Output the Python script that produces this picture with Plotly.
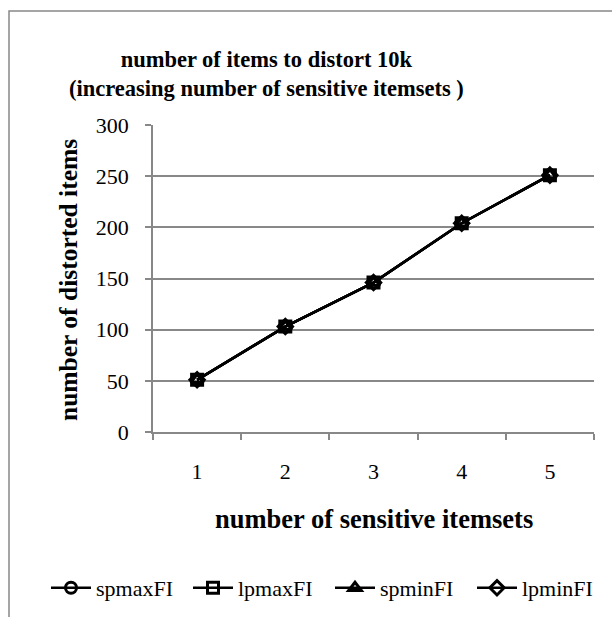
import plotly.graph_objects as go

categories = ["1", "2", "3", "4", "5"]
spmaxFI = [51, 103, 146, 204, 251]
lpmaxFI = [51, 103, 146, 204, 251]
spminFI = [51, 103, 146, 204, 251]
lpminFI = [51, 103, 146, 204, 251]

series = [
    ("spmaxFI", spmaxFI, "circle-open"),
    ("lpmaxFI", lpmaxFI, "square-open"),
    ("spminFI", spminFI, "triangle-up-open"),
    ("lpminFI", lpminFI, "diamond-open"),
]

FONT = "Liberation Serif, Times New Roman, serif"

fig = go.Figure()
for name, vals, sym in series:
    fig.add_trace(go.Scatter(
        x=categories, y=vals, name=name, mode="lines+markers",
        line=dict(color="black", width=2.5),
        marker=dict(symbol=sym, size=11, color="black", line=dict(color="black", width=3)),
    ))

L, R, T, B = 153, 18, 125, 185
W, H = 612, 617
pw = W - L - R
ph = H - T - B

def px(x):
    return (x - L) / pw

def py(y):
    return (H - B - y) / ph

fig.update_layout(
    width=W, height=H,
    margin=dict(l=L, r=R, t=T, b=B, autoexpand=False),
    paper_bgcolor="white", plot_bgcolor="white",
    font=dict(family=FONT, size=22, color="black"),
    showlegend=True,
    legend=dict(orientation="h", x=px(46), xanchor="left", y=py(588), yanchor="middle",
                font=dict(family=FONT, size=22), itemwidth=40,
                entrywidth=87, entrywidthmode="pixels",
                bgcolor="rgba(0,0,0,0)"),
    xaxis=dict(type="category", range=[-0.5, 4.5], tickson="boundaries",
               ticks="outside", ticklen=6, tickcolor="#888888", tickwidth=1.5,
               showline=True, linecolor="#888888", linewidth=1.5,
               showgrid=False, zeroline=False, ticklabelstandoff=19,
               tickfont=dict(family=FONT, size=22)),
    yaxis=dict(range=[0, 300], dtick=50, ticks="outside", ticklen=6,
               tickcolor="#888888", tickwidth=1.5,
               showline=True, linecolor="#888888", linewidth=1.5,
               showgrid=True, gridcolor="#888888", gridwidth=1.5, zeroline=False,
               ticklabelstandoff=12,
               tickfont=dict(family=FONT, size=22)),
    shapes=[dict(type="rect", xref="paper", yref="paper",
                 x0=px(9), x1=px(640), y0=py(660), y1=py(11),
                 line=dict(color="#888888", width=1.5), fillcolor="rgba(0,0,0,0)",
                 layer="below")],
    annotations=[
        dict(text="<b>number of items to distort 10k<br>(increasing number of sensitive itemsets )</b>",
             xref="paper", yref="paper", x=px(266), y=py(74), xanchor="center", yanchor="middle",
             showarrow=False, font=dict(family=FONT, size=22.5)),
        dict(text="<b>number of distorted items</b>", textangle=-90,
             xref="paper", yref="paper", x=px(68), y=py(280), xanchor="center", yanchor="middle",
             showarrow=False, font=dict(family=FONT, size=25.5)),
        dict(text="<b>number of sensitive itemsets</b>",
             xref="paper", yref="paper", x=px(374), y=py(519), xanchor="center", yanchor="middle",
             showarrow=False, font=dict(family=FONT, size=26.5)),
    ],
)

fig.write_html("out.html")
